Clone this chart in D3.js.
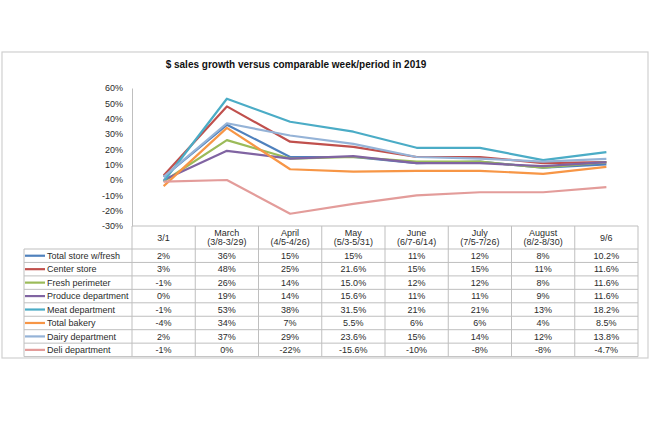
<!DOCTYPE html>
<html>
<head>
<meta charset="utf-8">
<script src="https://cdn.jsdelivr.net/npm/d3@7"></script>
<style>
  html, body { margin: 0; padding: 0; background: #fff; }
  svg { display: block; font-family: "Liberation Sans", Arial, sans-serif; }
</style>
</head>
<body>
<svg id="chart" width="650" height="433"></svg>
<script>
// ---- data ----
const title = "$ sales growth versus comparable week/period in 2019";
const categories = ["3/1", "March", "April", "May", "June", "July", "August", "9/6"];
const categorySub = ["", "(3/8-3/29)", "(4/5-4/26)", "(5/3-5/31)", "(6/7-6/14)", "(7/5-7/26)", "(8/2-8/30)", ""];
const yTicks = [-0.3, -0.2, -0.1, 0, 0.1, 0.2, 0.3, 0.4, 0.5, 0.6];

const seriesNames = ["Total store w/fresh", "Center store", "Fresh perimeter", "Produce department",
                     "Meat department", "Total bakery", "Dairy department", "Deli department"];
const seriesColors = ["#4F81BD", "#C0504D", "#9BBB59", "#8064A2", "#4BACC6", "#F79646", "#95B3D7", "#E39C9A"];

// values in percent, as shown in the data table
const totalStore     = ["2", "36", "15", "15", "11", "12", "8", "10.2"];
const centerStore    = ["3", "48", "25", "21.6", "15", "15", "11", "11.6"];
const freshPerimeter = ["-1", "26", "14", "15.0", "12", "12", "8", "11.6"];
const produce        = ["0", "19", "14", "15.6", "11", "11", "9", "11.6"];
const meat           = ["-1", "53", "38", "31.5", "21", "21", "13", "18.2"];
const bakery         = ["-4", "34", "7", "5.5", "6", "6", "4", "8.5"];
const dairy          = ["2", "37", "29", "23.6", "15", "14", "12", "13.8"];
const deli           = ["-1", "0", "-22", "-15.6", "-10", "-8", "-8", "-4.7"];

const seriesValues = [totalStore, centerStore, freshPerimeter, produce, meat, bakery, dairy, deli];

// ---- layout ----
const svg = d3.select("#chart");
const plotLeft = 132, plotRight = 638, plotTop = 88, plotBottom = 226;
const tableTop = 249, rowH = 13.45, legendLeft = 24;
const gridColor = "#BFBFBF";
const textColor = "#2b2b2b";

// outer border
svg.append("rect").attr("x", 2).attr("y", 52).attr("width", 646).attr("height", 306)
  .attr("fill", "none").attr("stroke", "#D0D0D0").attr("stroke-width", 1.2);

svg.append("text").attr("x", 296).attr("y", 68).attr("text-anchor", "middle")
  .attr("font-size", 10).attr("font-weight", "bold").attr("fill", "#111").text(title);

const x = d3.scaleBand().domain(categories).range([plotLeft, plotRight]);
const y = d3.scaleLinear().domain([-0.3, 0.6]).range([plotBottom, plotTop]);

// y axis
const pct = d3.format(".0%");
const yAxis = svg.append("g").attr("transform", `translate(${plotLeft},0)`)
  .call(d3.axisLeft(y).tickValues(yTicks).tickFormat(d => pct(d).replace("\u2212", "-")).tickSize(0).tickPadding(9));
yAxis.select(".domain").attr("stroke", gridColor);
yAxis.selectAll("text").attr("font-size", 9).attr("fill", textColor)
  .attr("font-family", "Liberation Sans, Arial, sans-serif");

// lines
const line = d3.line().x((d, i) => x(categories[i]) + x.bandwidth() / 2).y(d => y(+d / 100));
svg.append("g").selectAll("path").data(seriesValues).join("path")
  .attr("d", line).attr("fill", "none")
  .attr("stroke", (d, i) => seriesColors[i]).attr("stroke-width", 2.2)
  .attr("stroke-linejoin", "round");

// data table
const tableBottom = tableTop + rowH * seriesNames.length;
const tg = svg.append("g");
// horizontal lines
tg.append("line").attr("x1", plotLeft).attr("x2", plotRight).attr("y1", plotBottom).attr("y2", plotBottom)
  .attr("stroke", gridColor);
d3.range(seriesNames.length + 1).forEach(i => {
  tg.append("line").attr("x1", legendLeft).attr("x2", plotRight)
    .attr("y1", tableTop + i * rowH).attr("y2", tableTop + i * rowH).attr("stroke", gridColor);
});
// vertical lines
tg.append("line").attr("x1", legendLeft).attr("x2", legendLeft).attr("y1", tableTop).attr("y2", tableBottom)
  .attr("stroke", gridColor);
categories.forEach((c, i) => {
  tg.append("line").attr("x1", x(c)).attr("x2", x(c)).attr("y1", plotBottom).attr("y2", tableBottom)
    .attr("stroke", gridColor);
});
tg.append("line").attr("x1", plotRight).attr("x2", plotRight).attr("y1", plotBottom).attr("y2", tableBottom)
  .attr("stroke", gridColor);

// header
categories.forEach((c, i) => {
  const cx = x(c) + x.bandwidth() / 2;
  if (categorySub[i]) {
    tg.append("text").attr("x", cx).attr("y", 235.5).attr("text-anchor", "middle")
      .attr("font-size", 9).attr("fill", textColor).text(c);
    tg.append("text").attr("x", cx).attr("y", 245).attr("text-anchor", "middle")
      .attr("font-size", 9).attr("fill", textColor).text(categorySub[i]);
  } else {
    tg.append("text").attr("x", cx).attr("y", 240.5).attr("text-anchor", "middle")
      .attr("font-size", 9).attr("fill", textColor).text(c);
  }
});

// rows
seriesNames.forEach((name, r) => {
  const cy = tableTop + r * rowH + rowH / 2;
  tg.append("line").attr("x1", 25).attr("x2", 45).attr("y1", cy).attr("y2", cy)
    .attr("stroke", seriesColors[r]).attr("stroke-width", 2.2);
  tg.append("text").attr("x", 47).attr("y", cy + 3.2).attr("font-size", 9)
    .attr("fill", textColor).text(name);
  seriesValues[r].forEach((v, i) => {
    tg.append("text").attr("x", x(categories[i]) + x.bandwidth() / 2).attr("y", cy + 3.2)
      .attr("text-anchor", "middle").attr("font-size", 9).attr("fill", textColor).text(v + "%");
  });
});
</script>
</body>
</html>
